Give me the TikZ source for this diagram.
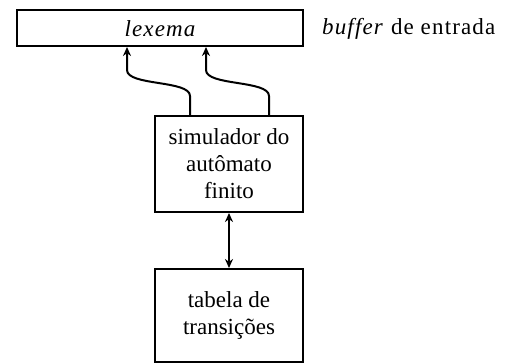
\documentclass[tikz,border=0pt]{standalone}
\usepackage{fontspec}
\setmainfont{Liberation Serif}
\usetikzlibrary{arrows.meta}
\begin{document}
\begin{tikzpicture}[x=1pt,y=-1pt,
  box/.style={draw,line width=2pt,inner sep=0pt},
  lbl/.style={font=\fontsize{23}{27}\selectfont,align=center,inner sep=0pt},
  wide/.style={font=\fontsize{23}{27}\selectfont\addfontfeatures{LetterSpace=5}},
  tip/.tip={Stealth[length=9pt,width=8pt]},
  arr/.style={line width=2pt,-tip}]
\useasboundingbox (0,0) rectangle (507,364);
\node[box,minimum width=286pt,minimum height=36pt] (buf) at (160,28) {};
\node[lbl,wide] (lex) at (160,29) {\itshape lexema};
\node[lbl,wide,anchor=west] (bufl) at (322,29) {\textit{buffer} de entrada};
\node[box,minimum width=148pt,minimum height=96pt] (sim) at (229,164) {};
\node[lbl] (simt) at (229,164) {simulador do\\autômato\\finito};
\node[box,minimum width=148pt,minimum height=93pt] (tab) at (229,315.5) {};
\node[lbl] (tabt) at (229,315.5) {tabela de\\transições};
\draw[arr] (190,116) -- (190,96) .. controls (190,80) and (127,86) .. (127,70) -- (127,47);
\draw[arr] (269,116) -- (269,96) .. controls (269,80) and (206,86) .. (206,70) -- (206,47);
\draw[line width=2pt,tip-tip] (sim.south) -- (tab.north);
\end{tikzpicture}
\end{document}
